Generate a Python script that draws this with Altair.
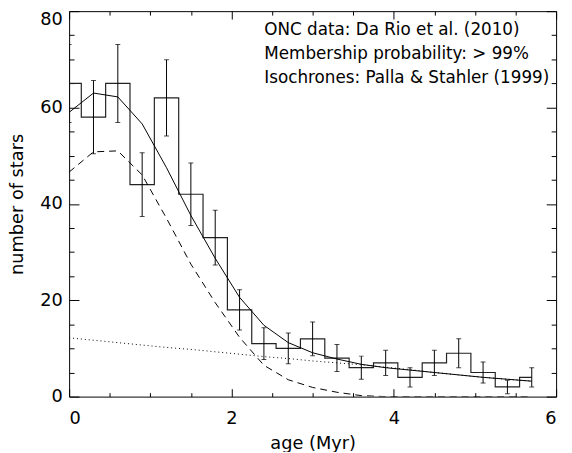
import altair as alt
import pandas as pd

# ---- data ----
ages = [0.0, 0.3, 0.6, 0.9, 1.2, 1.5, 1.8, 2.1, 2.4, 2.7,
        3.0, 3.3, 3.6, 3.9, 4.2, 4.5, 4.8, 5.1, 5.4, 5.7]
counts = [65, 58, 65, 44, 62, 42, 33, 18, 11, 10,
          12, 8, 6, 7, 4, 7, 9, 5, 2, 4]
errors = [8.1, 7.6, 8.1, 6.6, 7.9, 6.5, 5.7, 4.2, 3.3, 3.2,
          3.5, 2.8, 2.4, 2.6, 2.0, 2.6, 3.0, 2.2, 1.4, 2.0]
model_total = [59.0, 63.0, 62.2, 56.6, 47.5, 37.6, 28.7, 20.6, 14.8, 11.2,
               9.1, 7.8, 6.7, 6.0, 5.5, 5.0, 4.5, 4.0, 3.6, 3.2]
model_young = [46.6, 50.8, 51.0, 46.0, 37.0, 27.5, 19.5, 12.3, 6.5, 3.5,
               1.9, 0.9, 0.2, 0.0, 0.0, 0.0, 0.0, 0.0, 0.0, 0.0]
model_old = [12.2, 11.7, 11.2, 10.7, 10.2, 9.8, 9.3, 8.8, 8.3, 7.9,
             7.4, 7.0, 6.6, 6.1, 5.6, 5.0, 4.5, 4.0, 3.6, 3.2]
x_labels = [0, 2, 4, 6]
y_labels = [0, 20, 40, 60, 80]
x_ticks = [0, 0.5, 1, 1.5, 2, 2.5, 3, 3.5, 4, 4.5, 5, 5.5, 6]
y_ticks = [0, 5, 10, 15, 20, 25, 30, 35, 40, 45, 50, 55, 60, 65, 70, 75, 80]
notes = ["ONC data: Da Rio et al. (2010)",
         "Membership probability: > 99%",
         "Isochrones: Palla & Stahler (1999)"]

W, H = 494, 391
FONT = "DejaVu Sans"

hist = pd.DataFrame({"age": ages, "n": counts,
                     "lo": [c - e for c, e in zip(counts, errors)],
                     "hi": [c + e for c, e in zip(counts, errors)]})
caps = pd.DataFrame({"age": ages + ages,
                     "v": [c - e for c, e in zip(counts, errors)] +
                          [c + e for c, e in zip(counts, errors)]})
curves = pd.DataFrame({"age": ages, "tot": model_total,
                       "young": model_young, "old": model_old})

xs = alt.Scale(domain=[0, 6], nice=False, zero=False)
ys = alt.Scale(domain=[0, 80], nice=False, zero=False)

x_tick_size = {"condition": {"test": "datum.value % 2 === 0", "value": 8}, "value": 4}
y_tick_size = {"condition": {"test": "datum.value % 20 === 0", "value": 10}, "value": 5}


def tick_axis(orient, offset, values, size):
    return alt.Axis(orient=orient, offset=offset, values=values, labels=False,
                    domain=False, grid=False, ticks=True, tickSize=size,
                    tickColor="black", tickWidth=1, title=None)


x_main = alt.Axis(orient="bottom", values=x_labels, ticks=False, tickSize=0,
                  domain=False, grid=False, labelFont=FONT, labelFontSize=18,
                  labelColor="black", labelPadding=13, title="age (Myr)",
                  titleFont=FONT, titleFontSize=18, titleFontWeight="normal",
                  titleColor="black", titlePadding=8, format="d")
y_main = alt.Axis(orient="left", values=y_labels, ticks=False, tickSize=0,
                  domain=False, grid=False, labelFont=FONT, labelFontSize=18,
                  labelColor="black", labelPadding=7,
                  labelBaseline={"condition": {"test": "datum.value === 80",
                                               "value": "top"},
                                 "value": "middle"},
                  title="number of stars",
                  titleFont=FONT, titleFontSize=18, titleFontWeight="normal",
                  titleColor="black", titlePadding=13, format="d")

step = alt.Chart(hist).mark_line(interpolate="step", color="#222", strokeWidth=1.2,
                                 clip=True).encode(
    x=alt.X("age:Q", scale=xs, axis=x_main),
    y=alt.Y("n:Q", scale=ys, axis=y_main),
)

bars = alt.Chart(hist).mark_rule(color="black", strokeWidth=1, clip=True).encode(
    x=alt.X("age:Q", scale=xs, axis=tick_axis("top", -H, x_ticks, x_tick_size)),
    y=alt.Y("lo:Q", scale=ys, axis=tick_axis("right", -W, y_ticks, y_tick_size)),
    y2="hi:Q",
)

capm = alt.Chart(caps).mark_tick(color="black", orient="horizontal", size=5,
                                 thickness=1, clip=True).encode(
    x=alt.X("age:Q", scale=xs, axis=tick_axis("bottom", -H, x_ticks, x_tick_size)),
    y=alt.Y("v:Q", scale=ys, axis=tick_axis("left", -W, y_ticks, y_tick_size)),
)

solid = alt.Chart(curves).mark_line(color="black", strokeWidth=1, clip=True).encode(
    x=alt.X("age:Q", scale=xs, axis=None),
    y=alt.Y("tot:Q", scale=ys, axis=None),
)
dashed = alt.Chart(curves).mark_line(color="black", strokeWidth=1, strokeDash=[7, 5],
                                     clip=True).encode(
    x=alt.X("age:Q", scale=xs, axis=None),
    y=alt.Y("young:Q", scale=ys, axis=None),
)
dotted = alt.Chart(curves).mark_line(color="black", strokeWidth=1, strokeDash=[1, 3],
                                     clip=True).encode(
    x=alt.X("age:Q", scale=xs, axis=None),
    y=alt.Y("old:Q", scale=ys, axis=None),
)

text = alt.Chart(pd.DataFrame({"k": [0]})).mark_text(
    text=notes, align="left", baseline="alphabetic", font=FONT, fontSize=17,
    lineHeight=24.5, color="black").encode(
    x=alt.value(198), y=alt.value(24))

chart = alt.layer(step, bars, capm, solid, dashed, dotted, text).resolve_axis(
    x="independent", y="independent"
).properties(
    width=W, height=H,
    autosize=alt.AutoSizeParams(type="none"),
    padding={"left": 62, "top": 0, "right": 8, "bottom": 53},
    background="white",
).configure_view(stroke="black", strokeWidth=1)

chart.save("out.html", embed_options={"renderer": "svg", "actions": False})
